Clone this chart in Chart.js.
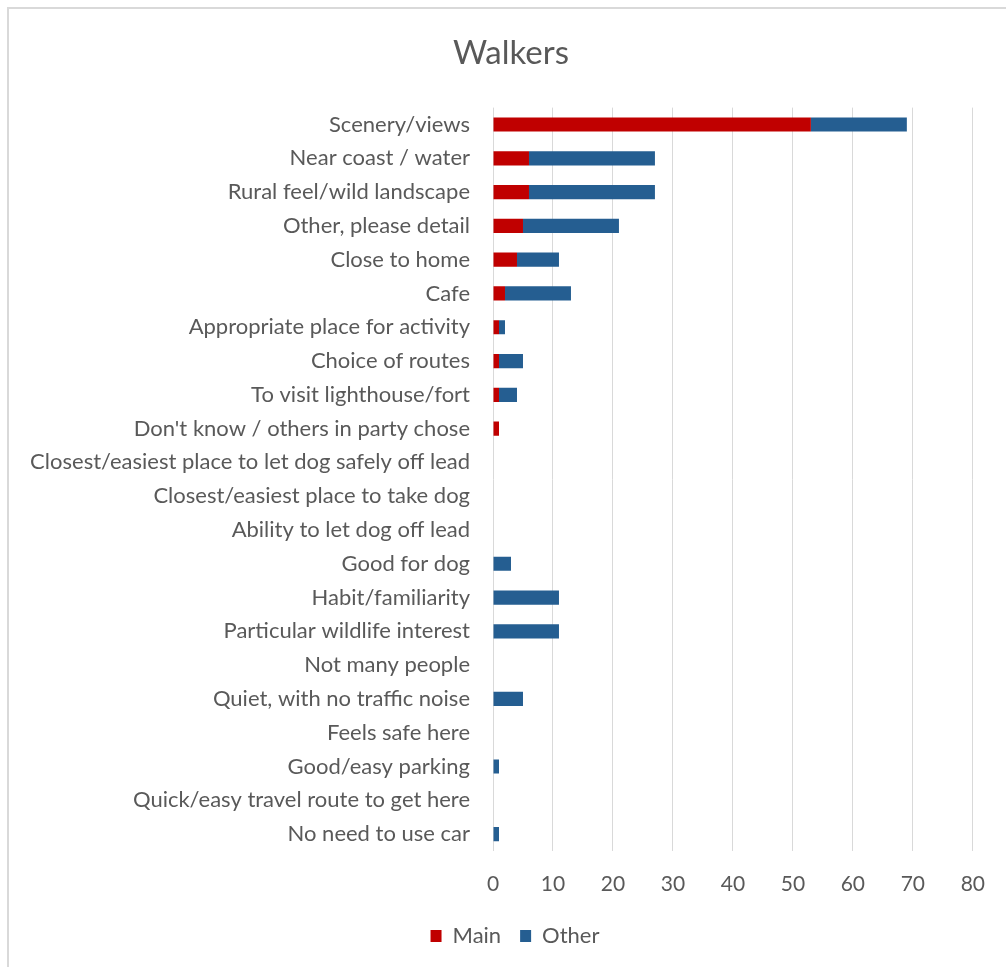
<!DOCTYPE html>
<html>
<head>
<meta charset="utf-8">
<script src="https://cdn.jsdelivr.net/npm/chart.js@4"></script>
<style>
  html, body { margin: 0; padding: 0; background: #ffffff; }
  #frame {
    position: absolute; left: 7px; top: 7px; width: 1100px; height: 1000px;
    border-left: 2px solid #d9d9d9; border-top: 2px solid #d9d9d9;
    box-sizing: border-box;
  }
  #chart { position: absolute; left: 0; top: 0; }
</style>
</head>
<body>
<div id="frame"></div>
<canvas id="chart" width="1006" height="967"></canvas>
<script>
// Reasons walkers gave for choosing the site
const categories = [
  "Scenery/views",
  "Near coast / water",
  "Rural feel/wild landscape",
  "Other, please detail",
  "Close to home",
  "Cafe",
  "Appropriate place for activity",
  "Choice of routes",
  "To visit lighthouse/fort",
  "Don't know / others in party chose",
  "Closest/easiest place to let dog safely off lead",
  "Closest/easiest place to take dog",
  "Ability to let dog off lead",
  "Good for dog",
  "Habit/familiarity",
  "Particular wildlife interest",
  "Not many people",
  "Quiet, with no traffic noise",
  "Feels safe here",
  "Good/easy parking",
  "Quick/easy travel route to get here",
  "No need to use car"
];
const mainValues  = [53, 6, 6, 5, 4, 2, 1, 1, 1, 1, 0, 0, 0, 0, 0, 0, 0, 0, 0, 0, 0, 0];
const otherValues = [16, 21, 21, 16, 7, 11, 1, 4, 3, 0, 0, 0, 0, 3, 11, 11, 0, 5, 0, 1, 0, 1];
const xTicks = [0, 10, 20, 30, 40, 50, 60, 70, 80];

const FONT = "Lato, 'Open Sans', sans-serif";
const TEXT = "#595959";

// The frame is wider than the canvas, so title and legend sit a little right of the canvas centre
const centreOnFrame = {
  id: "centreOnFrame",
  afterLayout(chart) {
    const t = chart.titleBlock;
    if (t) { t.left += 14; t.right += 14; }
    const l = chart.legend;
    if (l) { l.left += 18; l.right += 18; }
  }
};

new Chart(document.getElementById("chart"), {
  type: "bar",
  data: {
    labels: categories,
    datasets: [
      { label: "Main",  data: mainValues,  backgroundColor: "#c00000", barPercentage: 0.42, categoryPercentage: 1 },
      { label: "Other", data: otherValues, backgroundColor: "#255e91", barPercentage: 0.42, categoryPercentage: 1 }
    ]
  },
  plugins: [centreOnFrame],
  options: {
    indexAxis: "y",
    responsive: false,
    animation: false,
    layout: { padding: { left: 20, right: 32, top: 0, bottom: 10 } },
    plugins: {
      title: {
        display: true, text: "Walkers", color: TEXT,
        font: { family: FONT, size: 33, weight: "normal" },
        padding: { top: 34, bottom: 34 }
      },
      legend: {
        position: "bottom",
        labels: {
          color: TEXT, boxWidth: 11, boxHeight: 12, padding: 19,
          font: { family: FONT, size: 22 }
        }
      },
      tooltip: { enabled: false }
    },
    scales: {
      x: {
        stacked: true, min: 0, max: 80,
        afterBuildTicks: (axis) => { axis.ticks = xTicks.map(v => ({ value: v })); },
        afterFit: (axis) => { axis.height = 55; },
        grid: { color: "#d9d9d9", drawTicks: false },
        border: { display: false },
        ticks: { color: TEXT, padding: 21, font: { family: FONT, size: 21 } }
      },
      y: {
        stacked: true,
        afterFit: (axis) => { axis.width = 473; },
        grid: { display: false, drawTicks: false },
        border: { display: false },
        ticks: { color: TEXT, padding: 23, autoSkip: false, font: { family: FONT, size: 22 } }
      }
    }
  }
});
</script>
</body>
</html>
